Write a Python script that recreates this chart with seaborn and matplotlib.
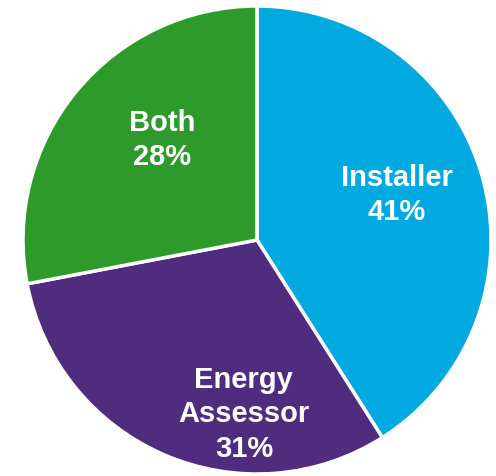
import matplotlib
matplotlib.use("Agg")
import matplotlib.pyplot as plt
import seaborn as sns

sns.set_theme(style="white")
plt.rcParams["font.family"] = ["Liberation Sans", "DejaVu Sans"]

categories = ["Installer", "Energy\nAssessor", "Both"]
shares = [41, 31, 28]
colors = ["#00A9E0", "#4F2C7D", "#2E9A2B"]
# label anchor points in pie units (radius = 1)
label_pos = [(0.598, 0.197), (-0.056, -0.741), (-0.406, 0.432)]

fig = plt.figure(figsize=(4.96, 4.77), dpi=100)
ax = fig.add_axes([0, 0, 1, 1])
R = 234.0
CX, CY = 257.0, 241.0
ax.pie(shares, colors=colors, startangle=90, counterclock=False, radius=1.0,
       wedgeprops=dict(edgecolor="white", linewidth=2.5))
for cat, val, (x, y) in zip(categories, shares, label_pos):
    ax.text(x, y, f"{cat}\n{val}%", ha="center", va="center", color="white",
            fontsize=21, fontweight="bold", linespacing=1.3)
ax.set_xlim(-CX / R, (496 - CX) / R)
ax.set_ylim((CY - 477) / R, CY / R)
ax.set_aspect("equal")
ax.axis("off")
fig.savefig("out.png", dpi=100, facecolor="white")
